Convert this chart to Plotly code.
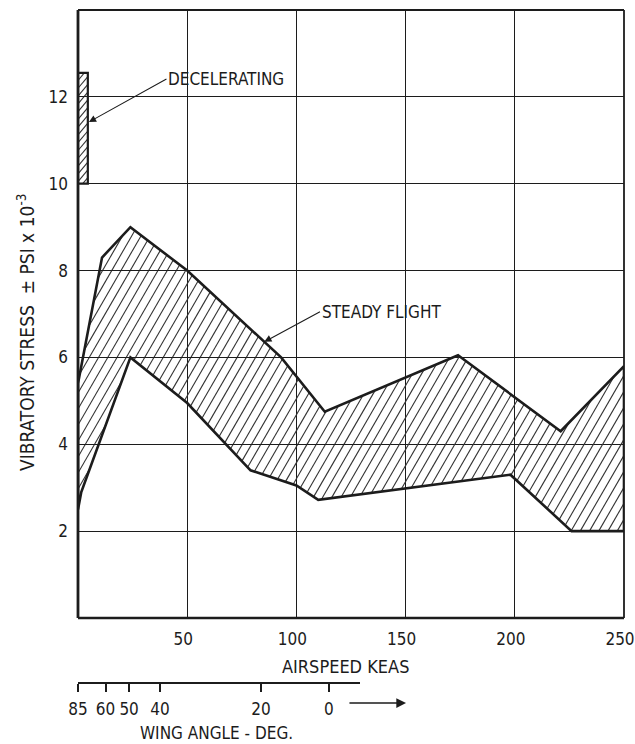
import math
import plotly.graph_objects as go

# ---- data -------------------------------------------------------------
# Steady-flight vibratory stress band (airspeed KEAS vs stress, psi x 10^-3)
upper_speed = [0, 11, 24, 50, 93, 113, 174, 221, 250]
upper_stress = [5.4, 8.3, 9.0, 8.0, 6.0, 4.75, 6.05, 4.3, 5.8]
lower_speed = [0, 1.5, 24, 50, 79, 100, 110, 198, 226, 250]
lower_stress = [2.5, 2.9, 6.0, 4.95, 3.4, 3.05, 2.72, 3.3, 2.0, 2.0]

# Decelerating band at the low-speed end
decel_speed = [0, 4.5]
decel_stress = [10.0, 12.55]

# Axis ticks
speed_ticks = [50, 100, 150, 200, 250]
stress_ticks = [2, 4, 6, 8, 10, 12]

# Wing sweep angle scale, placed against airspeed
wing_angle_labels = ["85", "60", "50", "40", "20", "0"]
wing_angle_speed = [0, 12.6, 23.4, 37.5, 83.8, 114.9]
wing_scale_end = 129

# ---- geometry ---------------------------------------------------------
WIDTH, HEIGHT = 635, 744
M_L, M_R, M_T, M_B = 78, 11, 10, 61
X_RANGE = [0, 250]
Y_RANGE = [0, 14]
PLOT_W = WIDTH - M_L - M_R
PLOT_H = HEIGHT - M_T - M_B
MAIN_Y_BOTTOM = 0.0966
SX = PLOT_W / (X_RANGE[1] - X_RANGE[0])                 # px per knot
SY = PLOT_H * (1 - MAIN_Y_BOTTOM) / (Y_RANGE[1] - Y_RANGE[0])  # px per unit

FONT = "DejaVu Sans Condensed, Liberation Sans Narrow, Arial Narrow, sans-serif"
INK = "#1c1c1c"


def hatch(xs, ys, angle_deg, spacing_px):
    """Diagonal hatch lines clipped to a polygon, spaced in screen pixels."""
    pts = [(x * SX, y * SY) for x, y in zip(xs, ys)]
    th = math.radians(angle_deg)
    d = (math.cos(th), math.sin(th))
    n = (-math.sin(th), math.cos(th))
    proj = [n[0] * p[0] + n[1] * p[1] for p in pts]
    k0 = math.ceil(min(proj) / spacing_px)
    k1 = math.floor(max(proj) / spacing_px)
    hx, hy = [], []
    m = len(pts)
    for k in range(k0, k1 + 1):
        c = k * spacing_px + 0.5
        cuts = []
        for i in range(m):
            p1, p2 = pts[i], pts[(i + 1) % m]
            s1, s2 = proj[i] - c, proj[(i + 1) % m] - c
            if (s1 < 0) != (s2 < 0):
                t = s1 / (s1 - s2)
                qx = p1[0] + t * (p2[0] - p1[0])
                qy = p1[1] + t * (p2[1] - p1[1])
                cuts.append(d[0] * qx + d[1] * qy)
        cuts.sort()
        for a, b in zip(cuts[0::2], cuts[1::2]):
            for s in (a, b):
                px = c * n[0] + s * d[0]
                py = c * n[1] + s * d[1]
                hx.append(px / SX)
                hy.append(py / SY)
            hx.append(None)
            hy.append(None)
    return hx, hy


# closed outlines
band_x = upper_speed + lower_speed[::-1] + [upper_speed[0]]
band_y = upper_stress + lower_stress[::-1] + [upper_stress[0]]
dec_x = [decel_speed[0], decel_speed[0], decel_speed[1], decel_speed[1], decel_speed[0]]
dec_y = [decel_stress[0], decel_stress[1], decel_stress[1], decel_stress[0], decel_stress[0]]

band_hx, band_hy = hatch(band_x[:-1], band_y[:-1], 60, 8.0)
dec_hx, dec_hy = hatch(dec_x[:-1], dec_y[:-1], 50, 5.0)

fig = go.Figure()
fig.add_trace(go.Scatter(x=band_hx, y=band_hy, mode="lines",
                         line=dict(color="#333333", width=1.1),
                         hoverinfo="skip", showlegend=False))
fig.add_trace(go.Scatter(x=band_x, y=band_y, mode="lines",
                         line=dict(color=INK, width=2.6),
                         name="Steady flight", showlegend=False))
fig.add_trace(go.Scatter(x=dec_hx, y=dec_hy, mode="lines",
                         line=dict(color="#333333", width=1.1),
                         hoverinfo="skip", showlegend=False))
fig.add_trace(go.Scatter(x=dec_x, y=dec_y, mode="lines",
                         line=dict(color=INK, width=2.2),
                         name="Decelerating", showlegend=False))
# anchor trace for the wing-angle scale
fig.add_trace(go.Scatter(x=wing_angle_speed, y=[None] * len(wing_angle_speed),
                         xaxis="x2", yaxis="y", mode="markers",
                         hoverinfo="skip", showlegend=False))

fig.update_layout(
    width=WIDTH, height=HEIGHT,
    margin=dict(l=M_L, r=M_R, t=M_T, b=M_B),
    paper_bgcolor="white", plot_bgcolor="rgba(0,0,0,0)",
    font=dict(family=FONT, size=17, color=INK),
    xaxis=dict(range=X_RANGE, tickvals=speed_ticks, ticks="",
               showgrid=True, gridcolor=INK, gridwidth=1.3,
               zeroline=False, showline=False, ticklabelstandoff=9,
               ticklabelshift=-4, ticklabeloverflow="allow",
               automargin=False, tickfont=dict(size=17), fixedrange=True),
    yaxis=dict(range=Y_RANGE, domain=[MAIN_Y_BOTTOM, 1], tickvals=stress_ticks,
               ticks="", showgrid=True, gridcolor=INK, gridwidth=1.3,
               zeroline=False, showline=False, ticklabelstandoff=9,
               automargin=False, tickfont=dict(size=17), fixedrange=True),
    xaxis2=dict(anchor="free", position=0,
                domain=[0, wing_scale_end / X_RANGE[1]],
                range=[0, wing_scale_end],
                tickvals=wing_angle_speed, ticktext=wing_angle_labels,
                ticks="outside", ticklen=8, tickwidth=1.6, tickcolor=INK,
                showline=True, linecolor=INK, linewidth=1.8,
                showgrid=False, zeroline=False, ticklabelstandoff=3,
                automargin=False, tickfont=dict(size=17), fixedrange=True),
)

# plot frame: heavier left and bottom edges
frame = [
    dict(x0=0, x1=0, y0=0, y1=1, w=2.8),
    dict(x0=0, x1=1, y0=0, y1=0, w=2.6),
    dict(x0=0, x1=1, y0=1, y1=1, w=1.8),
    dict(x0=1, x1=1, y0=0, y1=1, w=1.8),
]
for f in frame:
    fig.add_shape(type="line", xref="x domain", yref="y domain",
                  x0=f["x0"], x1=f["x1"], y0=f["y0"], y1=f["y1"],
                  line=dict(color=INK, width=f["w"]))

# labels with leader arrows (text box left edge sits on the arrow tail)
fig.add_annotation(x=5.0, y=11.42, ax=40.5, ay=12.41, xref="x", yref="y",
                   axref="x", ayref="y", text="DECELERATING",
                   xanchor="left", yanchor="middle", showarrow=True,
                   arrowhead=2, arrowsize=1.3, arrowwidth=1.1,
                   arrowcolor=INK, standoff=0, font=dict(size=17))
fig.add_annotation(x=85.3, y=6.36, ax=110.8, ay=7.05, xref="x", yref="y",
                   axref="x", ayref="y", text="STEADY FLIGHT",
                   xanchor="left", yanchor="middle", showarrow=True,
                   arrowhead=2, arrowsize=1.3, arrowwidth=1.1,
                   arrowcolor=INK, standoff=0, font=dict(size=17))

fig.add_annotation(x=(345 - M_L) / PLOT_W, y=(PLOT_H + M_T - 666) / PLOT_H,
                   xref="paper", yref="paper", text="AIRSPEED KEAS",
                   showarrow=False, xanchor="center", yanchor="middle",
                   font=dict(size=18))
fig.add_annotation(x=(216 - M_L) / PLOT_W, y=(PLOT_H + M_T - 733) / PLOT_H,
                   xref="paper", yref="paper", text="WING ANGLE - DEG.",
                   showarrow=False, xanchor="center", yanchor="middle",
                   font=dict(size=17))
# direction arrow beside the wing-angle scale
arrow_tail, arrow_tip = 123.6, 150.2
fig.add_annotation(x=arrow_tip, y=(PLOT_H + M_T - 703) / PLOT_H,
                   xref="x", yref="paper", axref="pixel", ayref="pixel",
                   ax=-(arrow_tip - arrow_tail) * SX, ay=0,
                   text="", showarrow=True, arrowhead=2, arrowsize=1.3,
                   arrowwidth=1.5, arrowcolor=INK, standoff=0)

fig.add_annotation(x=(26 - M_L) / PLOT_W, y=(PLOT_H + M_T - 333) / PLOT_H,
                   xref="paper", yref="paper",
                   text="VIBRATORY STRESS  ± PSI x 10<sup>-3</sup>",
                   textangle=-90, showarrow=False,
                   xanchor="center", yanchor="middle", font=dict(size=19))

fig.write_html("out.html")
